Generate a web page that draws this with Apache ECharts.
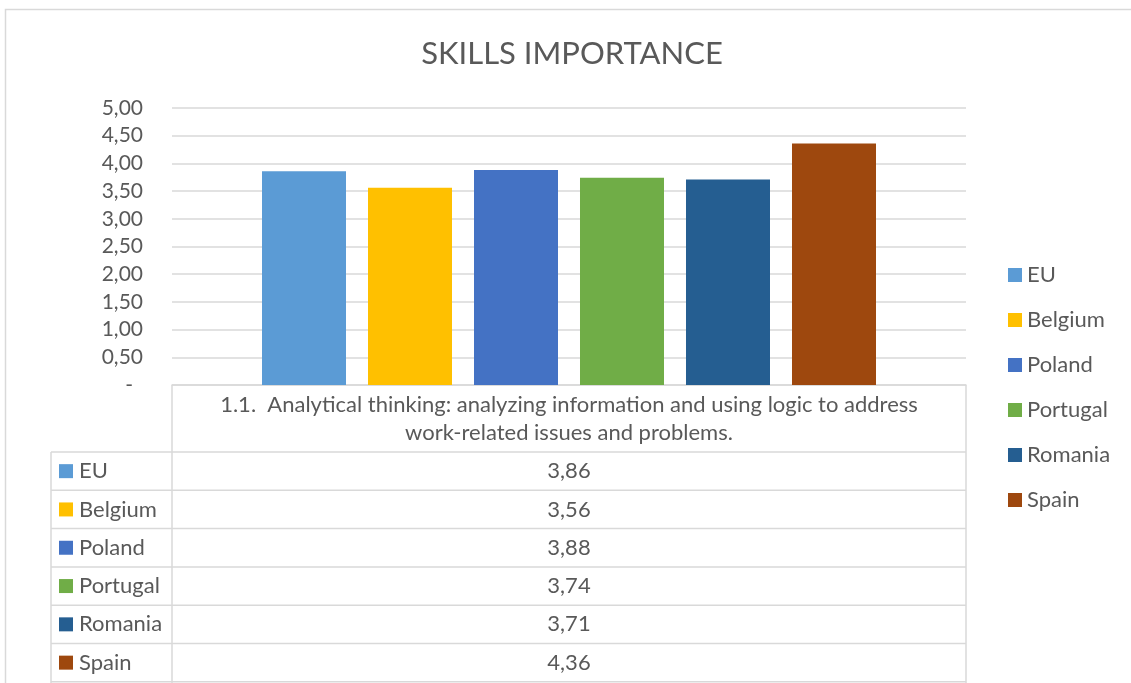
<!DOCTYPE html>
<html><head><meta charset="utf-8">
<script src="https://cdn.jsdelivr.net/npm/echarts@6/dist/echarts.min.js"></script>
<style>html,body{margin:0;padding:0;background:#fff}#c{width:1131px;height:683px}</style>
</head><body><div id="c"></div>
<script>
const categories = ['1.1.  Analytical thinking: analyzing information and using logic to address\nwork-related issues and problems.'];
const seriesNames = ['EU', 'Belgium', 'Poland', 'Portugal', 'Romania', 'Spain'];
const euValues = [3.86];
const belgiumValues = [3.56];
const polandValues = [3.88];
const portugalValues = [3.74];
const romaniaValues = [3.71];
const spainValues = [4.36];
const seriesValues = [euValues, belgiumValues, polandValues, portugalValues, romaniaValues, spainValues];
const colors = ['#5B9BD5', '#FFC000', '#4472C4', '#70AD47', '#255E91', '#9E480E'];
const yMin = 0, yMax = 5, yStep = 0.5;

const FONT = 'Lato';
const TXT = '#595959';
const LINE = '#d9d9d9';

function fmt(v) { return v.toFixed(2).replace('.', ','); }

// layout
const G = { left: 172, right: 966, top: 108, bottom: 385 };
const tbl = { x0: 51, x1: 172, x2: 966, headBottom: 452, rowH: 38.3 };

const graphics = [];
// outer frame
graphics.push({ type: 'rect', shape: { x: 5.5, y: 9.5, width: 1140, height: 700 }, style: { fill: 'none', stroke: LINE, lineWidth: 1.5 }, silent: true });
// table verticals
graphics.push({ type: 'line', shape: { x1: tbl.x1, y1: G.bottom, x2: tbl.x1, y2: 683 }, style: { stroke: LINE, lineWidth: 1.5 } });
graphics.push({ type: 'line', shape: { x1: tbl.x2, y1: G.bottom, x2: tbl.x2, y2: 683 }, style: { stroke: LINE, lineWidth: 1.5 } });
graphics.push({ type: 'line', shape: { x1: tbl.x0, y1: tbl.headBottom, x2: tbl.x0, y2: 683 }, style: { stroke: LINE, lineWidth: 1.5 } });
for (let i = 0; i <= seriesNames.length; i++) {
  const y = tbl.headBottom + i * tbl.rowH;
  graphics.push({ type: 'line', shape: { x1: tbl.x0, y1: y, x2: tbl.x2, y2: y }, style: { stroke: LINE, lineWidth: 1.5 } });
}
seriesNames.forEach((name, i) => {
  const yc = tbl.headBottom + (i + 0.5) * tbl.rowH;
  graphics.push({ type: 'rect', shape: { x: 59, y: yc - 7, width: 14, height: 14 }, style: { fill: colors[i] } });
  graphics.push({ type: 'text', x: 79, y: yc, style: { text: name, fill: TXT, font: '22px ' + FONT, textVerticalAlign: 'middle', verticalAlign: 'middle' } });
  graphics.push({ type: 'text', x: (tbl.x1 + tbl.x2) / 2, y: yc, style: { text: fmt(seriesValues[i][0]), fill: TXT, font: '22px ' + FONT, align: 'center', textAlign: 'center', verticalAlign: 'middle', textVerticalAlign: 'middle' } });
});

const chart = echarts.init(document.getElementById('c'), null, { renderer: 'canvas' });
chart.setOption({
  animation: false,
  textStyle: { fontFamily: FONT },
  title: {
    text: 'SKILLS IMPORTANCE', left: 572, textAlign: 'center', top: 38, padding: 0,
    textStyle: { fontFamily: FONT, fontSize: 31, fontWeight: 'normal', color: TXT }
  },
  legend: {
    orient: 'vertical', left: 1008, top: 264, padding: 0, itemWidth: 14, itemHeight: 14, itemGap: 23,
    icon: 'rect', data: seriesNames,
    textStyle: { fontFamily: FONT, fontSize: 22, color: TXT, lineHeight: 20 }
  },
  grid: { left: G.left, right: 1131 - G.right, top: G.top, bottom: 683 - G.bottom, containLabel: false },
  xAxis: {
    type: 'category', data: categories,
    axisLine: { show: true, lineStyle: { color: LINE, width: 1.5 } },
    axisTick: { show: false },
    axisLabel: { margin: 6, fontFamily: FONT, fontSize: 22, lineHeight: 28, color: TXT, align: 'center', interval: 0 }
  },
  yAxis: {
    type: 'value', min: yMin, max: yMax, interval: yStep,
    axisLine: { show: false }, axisTick: { show: false },
    splitLine: { lineStyle: { color: LINE, width: 1.5 } },
    axisLabel: {
      margin: 29, fontFamily: FONT, fontSize: 21, color: TXT,
      formatter: v => v === 0 ? '{z|-}' : fmt(v),
      rich: { z: { fontFamily: FONT, fontSize: 21, color: TXT, padding: [0, 10, 0, 0] } }
    }
  },
  series: seriesNames.map((name, i) => ({
    name, type: 'bar', data: seriesValues[i], barWidth: 84, barGap: (22 / 84 * 100).toFixed(2) + '%',
    itemStyle: { color: colors[i] }
  })),
  graphic: graphics
});
</script></body></html>
